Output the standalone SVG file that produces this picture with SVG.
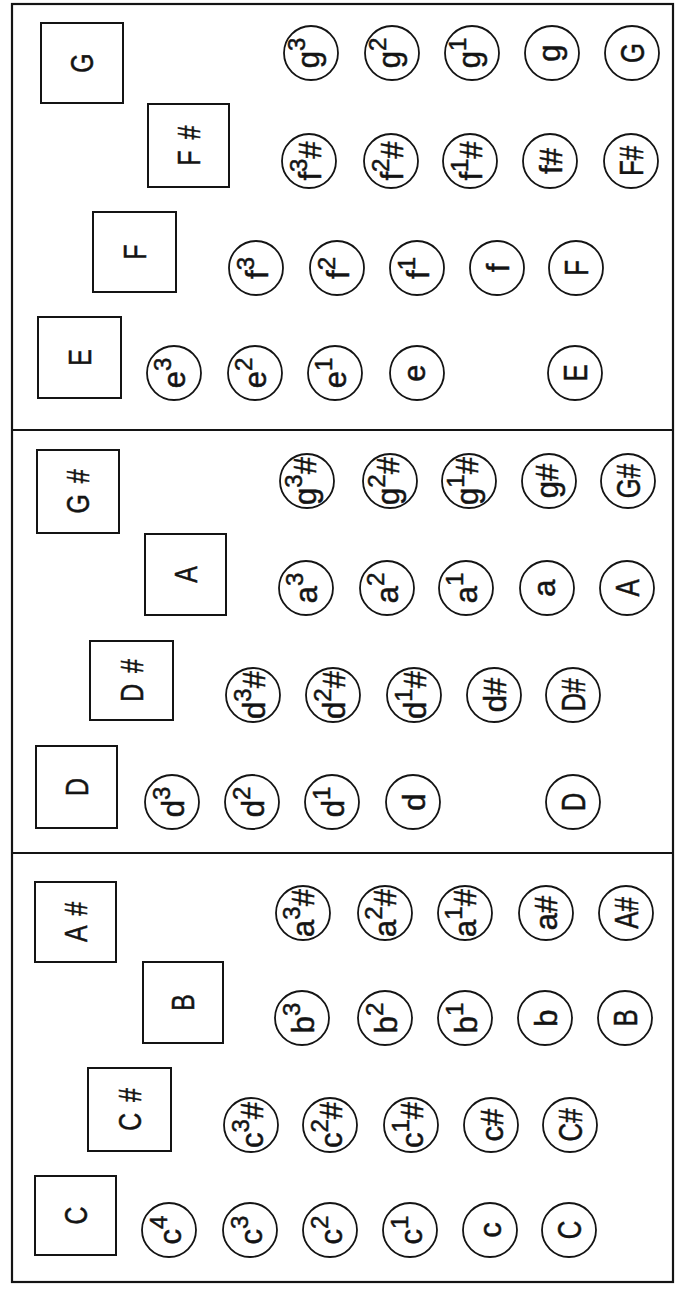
<svg xmlns="http://www.w3.org/2000/svg" width="677" height="1292" viewBox="0 0 677 1292">
<style>
.frame{fill:none;stroke:#141414;stroke-width:2.2}
.key rect{fill:none;stroke:#141414;stroke-width:2}
.note circle{fill:none;stroke:#141414;stroke-width:1.8}
text{font-family:"Liberation Sans",Arial,sans-serif;fill:#141414;stroke:#141414;stroke-width:0.5;text-anchor:middle}
.kl{font-size:31px}
.lc{font-size:31px}
.uc{font-size:33px}
.sup{font-size:24px}
</style>
<rect width="677" height="1292" fill="#ffffff"/>
<g id="frame">
<rect class="frame" x="12" y="4" width="661" height="1278"/>
<line class="frame" x1="12" y1="430" x2="673" y2="430"/>
<line class="frame" x1="12" y1="853" x2="673" y2="853"/>
</g>
<g id="connectors"></g>

<!-- Panel 1 keys -->
<g id="key-G" class="key"><rect x="41" y="23" width="82" height="80"/><text class="kl" transform="translate(82 63) rotate(-90) scale(0.8 1)" y="11">G</text></g>
<g id="key-Fsharp" class="key"><rect x="148" y="104" width="81" height="83"/><text class="kl" transform="translate(188.5 145.5) rotate(-90) scale(0.8 1)" y="11">F <tspan dx="5">#</tspan></text></g>
<g id="key-F" class="key"><rect x="93" y="212" width="83" height="80"/><text class="kl" transform="translate(134.5 252) rotate(-90) scale(0.8 1)" y="11">F</text></g>
<g id="key-E" class="key"><rect x="38" y="317" width="83" height="81"/><text class="kl" transform="translate(79.5 357.5) rotate(-90) scale(0.8 1)" y="11">E</text></g>

<!-- Panel 1 notes -->
<g id="n-g3" class="note"><circle cx="311" cy="53" r="27"/><text class="lc" transform="translate(311 53) rotate(-90)" y="8">g<tspan class="sup" dy="-14">3</tspan></text></g>
<g id="n-g2" class="note"><circle cx="392" cy="53" r="27"/><text class="lc" transform="translate(392 53) rotate(-90)" y="8">g<tspan class="sup" dy="-14">2</tspan></text></g>
<g id="n-g1" class="note"><circle cx="472" cy="53" r="27"/><text class="lc" transform="translate(472 53) rotate(-90)" y="8">g<tspan class="sup" dy="-14">1</tspan></text></g>
<g id="n-g" class="note"><circle cx="552" cy="53" r="27"/><text class="lc" transform="translate(552 53) rotate(-90)" y="8">g</text></g>
<g id="n-G" class="note"><circle cx="632" cy="53" r="27"/><text class="uc" transform="translate(632 53) rotate(-90) scale(0.78 1)" y="12">G</text></g>

<g id="n-f3sharp" class="note"><circle cx="309" cy="161" r="27"/><text class="lc" transform="translate(309 161) rotate(-90)" y="12">f<tspan class="sup" dy="-14">3</tspan><tspan dy="14">#</tspan></text></g>
<g id="n-f2sharp" class="note"><circle cx="391" cy="161" r="27"/><text class="lc" transform="translate(391 161) rotate(-90)" y="12">f<tspan class="sup" dy="-14">2</tspan><tspan dy="14">#</tspan></text></g>
<g id="n-f1sharp" class="note"><circle cx="470" cy="161" r="27"/><text class="lc" transform="translate(470 161) rotate(-90)" y="12">f<tspan class="sup" dy="-14">1</tspan><tspan dy="14">#</tspan></text></g>
<g id="n-fsharp" class="note"><circle cx="550" cy="161" r="27"/><text class="lc" transform="translate(550 161) rotate(-90)" y="12">f#</text></g>
<g id="n-Fsharp" class="note"><circle cx="631" cy="161" r="27"/><text class="uc" transform="translate(631 161) rotate(-90) scale(0.78 1)" y="12">F#</text></g>

<g id="n-f3" class="note"><circle cx="256" cy="268" r="27"/><text class="lc" transform="translate(256 268) rotate(-90)" y="12">f<tspan class="sup" dy="-14">3</tspan></text></g>
<g id="n-f2" class="note"><circle cx="337" cy="268" r="27"/><text class="lc" transform="translate(337 268) rotate(-90)" y="12">f<tspan class="sup" dy="-14">2</tspan></text></g>
<g id="n-f1" class="note"><circle cx="417" cy="268" r="27"/><text class="lc" transform="translate(417 268) rotate(-90)" y="12">f<tspan class="sup" dy="-14">1</tspan></text></g>
<g id="n-f" class="note"><circle cx="497" cy="268" r="27"/><text class="lc" transform="translate(497 268) rotate(-90)" y="12">f</text></g>
<g id="n-F" class="note"><circle cx="576" cy="268" r="27"/><text class="uc" transform="translate(576 268) rotate(-90) scale(0.78 1)" y="12">F</text></g>

<g id="n-e3" class="note"><circle cx="174" cy="373" r="27"/><text class="lc" transform="translate(174 373) rotate(-90)" y="11">e<tspan class="sup" dy="-14">3</tspan></text></g>
<g id="n-e2" class="note"><circle cx="255" cy="373" r="27"/><text class="lc" transform="translate(255 373) rotate(-90)" y="11">e<tspan class="sup" dy="-14">2</tspan></text></g>
<g id="n-e1" class="note"><circle cx="335" cy="373" r="27"/><text class="lc" transform="translate(335 373) rotate(-90)" y="11">e<tspan class="sup" dy="-14">1</tspan></text></g>
<g id="n-e" class="note"><circle cx="417" cy="373" r="27"/><text class="lc" transform="translate(417 373) rotate(-90)" y="8">e</text></g>
<g id="n-E" class="note"><circle cx="575" cy="373" r="27"/><text class="uc" transform="translate(575 373) rotate(-90) scale(0.78 1)" y="12">E</text></g>

<!-- Panel 2 keys -->
<g id="key-Gsharp" class="key"><rect x="37" y="450" width="82" height="83"/><text class="kl" transform="translate(78 491.5) rotate(-90) scale(0.8 1)" y="11">G <tspan dx="5">#</tspan></text></g>
<g id="key-A" class="key"><rect x="145" y="534" width="81" height="81"/><text class="kl" transform="translate(185.5 574.5) rotate(-90) scale(0.8 1)" y="11">A</text></g>
<g id="key-Dsharp" class="key"><rect x="90" y="641" width="83" height="79"/><text class="kl" transform="translate(131.5 680.5) rotate(-90) scale(0.8 1)" y="11">D <tspan dx="5">#</tspan></text></g>
<g id="key-D" class="key"><rect x="36" y="746" width="81" height="82"/><text class="kl" transform="translate(76.5 787) rotate(-90) scale(0.8 1)" y="11">D</text></g>

<!-- Panel 2 notes -->
<g id="n-g3sharp" class="note"><circle cx="307" cy="481" r="27"/><text class="lc" transform="translate(307 481) rotate(-90)" y="9">g<tspan class="sup" dy="-14">3</tspan><tspan dy="14">#</tspan></text></g>
<g id="n-g2sharp" class="note"><circle cx="390" cy="481" r="27"/><text class="lc" transform="translate(390 481) rotate(-90)" y="9">g<tspan class="sup" dy="-14">2</tspan><tspan dy="14">#</tspan></text></g>
<g id="n-g1sharp" class="note"><circle cx="469" cy="481" r="27"/><text class="lc" transform="translate(469 481) rotate(-90)" y="9">g<tspan class="sup" dy="-14">1</tspan><tspan dy="14">#</tspan></text></g>
<g id="n-gsharp" class="note"><circle cx="549" cy="481" r="27"/><text class="lc" transform="translate(549 481) rotate(-90)" y="9">g#</text></g>
<g id="n-Gsharp" class="note"><circle cx="628" cy="481" r="27"/><text class="uc" transform="translate(628 481) rotate(-90) scale(0.78 1)" y="12">G#</text></g>

<g id="n-a3" class="note"><circle cx="306" cy="588" r="27"/><text class="lc" transform="translate(306 588) rotate(-90)" y="11">a<tspan class="sup" dy="-14">3</tspan></text></g>
<g id="n-a2" class="note"><circle cx="387" cy="588" r="27"/><text class="lc" transform="translate(387 588) rotate(-90)" y="11">a<tspan class="sup" dy="-14">2</tspan></text></g>
<g id="n-a1" class="note"><circle cx="466" cy="588" r="27"/><text class="lc" transform="translate(466 588) rotate(-90)" y="11">a<tspan class="sup" dy="-14">1</tspan></text></g>
<g id="n-a" class="note"><circle cx="547" cy="588" r="27"/><text class="lc" transform="translate(547 588) rotate(-90)" y="8">a</text></g>
<g id="n-A" class="note"><circle cx="627" cy="588" r="27"/><text class="uc" transform="translate(627 588) rotate(-90) scale(0.78 1)" y="12">A</text></g>

<g id="n-d3sharp" class="note"><circle cx="253" cy="695" r="27"/><text class="lc" transform="translate(253 695) rotate(-90)" y="12">d<tspan class="sup" dy="-14">3</tspan><tspan dy="14">#</tspan></text></g>
<g id="n-d2sharp" class="note"><circle cx="333" cy="695" r="27"/><text class="lc" transform="translate(333 695) rotate(-90)" y="12">d<tspan class="sup" dy="-14">2</tspan><tspan dy="14">#</tspan></text></g>
<g id="n-d1sharp" class="note"><circle cx="414" cy="695" r="27"/><text class="lc" transform="translate(414 695) rotate(-90)" y="12">d<tspan class="sup" dy="-14">1</tspan><tspan dy="14">#</tspan></text></g>
<g id="n-dsharp" class="note"><circle cx="494" cy="695" r="27"/><text class="lc" transform="translate(494 695) rotate(-90)" y="12">d#</text></g>
<g id="n-Dsharp" class="note"><circle cx="573" cy="695" r="27"/><text class="uc" transform="translate(573 695) rotate(-90) scale(0.78 1)" y="12">D#</text></g>

<g id="n-d3" class="note"><circle cx="172" cy="802" r="27"/><text class="lc" transform="translate(172 802) rotate(-90)" y="12">d<tspan class="sup" dy="-14">3</tspan></text></g>
<g id="n-d2" class="note"><circle cx="252" cy="802" r="27"/><text class="lc" transform="translate(252 802) rotate(-90)" y="12">d<tspan class="sup" dy="-14">2</tspan></text></g>
<g id="n-d1" class="note"><circle cx="332" cy="802" r="27"/><text class="lc" transform="translate(332 802) rotate(-90)" y="12">d<tspan class="sup" dy="-14">1</tspan></text></g>
<g id="n-d" class="note"><circle cx="413" cy="802" r="27"/><text class="lc" transform="translate(413 802) rotate(-90)" y="12">d</text></g>
<g id="n-D" class="note"><circle cx="573" cy="802" r="27"/><text class="uc" transform="translate(573 802) rotate(-90) scale(0.78 1)" y="12">D</text></g>

<!-- Panel 3 keys -->
<g id="key-Asharp" class="key"><rect x="35" y="882" width="81" height="80"/><text class="kl" transform="translate(75.5 922) rotate(-90) scale(0.8 1)" y="11">A <tspan dx="5">#</tspan></text></g>
<g id="key-B" class="key"><rect x="143" y="962" width="80" height="81"/><text class="kl" transform="translate(183 1002.5) rotate(-90) scale(0.8 1)" y="11">B</text></g>
<g id="key-Csharp" class="key"><rect x="88" y="1068" width="83" height="83"/><text class="kl" transform="translate(129.5 1109.5) rotate(-90) scale(0.8 1)" y="11">C <tspan dx="5">#</tspan></text></g>
<g id="key-C" class="key"><rect x="35" y="1176" width="81" height="79"/><text class="kl" transform="translate(75.5 1215.5) rotate(-90) scale(0.8 1)" y="11">C</text></g>

<!-- Panel 3 notes -->
<g id="n-a3sharp" class="note"><circle cx="303" cy="913" r="27"/><text class="lc" transform="translate(303 913) rotate(-90)" y="11">a<tspan class="sup" dy="-14">3</tspan><tspan dy="14">#</tspan></text></g>
<g id="n-a2sharp" class="note"><circle cx="385" cy="913" r="27"/><text class="lc" transform="translate(385 913) rotate(-90)" y="11">a<tspan class="sup" dy="-14">2</tspan><tspan dy="14">#</tspan></text></g>
<g id="n-a1sharp" class="note"><circle cx="465" cy="913" r="27"/><text class="lc" transform="translate(465 913) rotate(-90)" y="11">a<tspan class="sup" dy="-14">1</tspan><tspan dy="14">#</tspan></text></g>
<g id="n-asharp" class="note"><circle cx="546" cy="913" r="27"/><text class="lc" transform="translate(546 913) rotate(-90)" y="11">a#</text></g>
<g id="n-Asharp" class="note"><circle cx="626" cy="913" r="27"/><text class="uc" transform="translate(626 913) rotate(-90) scale(0.78 1)" y="12">A#</text></g>

<g id="n-b3" class="note"><circle cx="302" cy="1018" r="27"/><text class="lc" transform="translate(302 1018) rotate(-90)" y="12">b<tspan class="sup" dy="-14">3</tspan></text></g>
<g id="n-b2" class="note"><circle cx="385" cy="1018" r="27"/><text class="lc" transform="translate(385 1018) rotate(-90)" y="12">b<tspan class="sup" dy="-14">2</tspan></text></g>
<g id="n-b1" class="note"><circle cx="465" cy="1018" r="27"/><text class="lc" transform="translate(465 1018) rotate(-90)" y="12">b<tspan class="sup" dy="-14">1</tspan></text></g>
<g id="n-b" class="note"><circle cx="545" cy="1018" r="27"/><text class="lc" transform="translate(545 1018) rotate(-90)" y="12">b</text></g>
<g id="n-B" class="note"><circle cx="625" cy="1018" r="27"/><text class="uc" transform="translate(625 1018) rotate(-90) scale(0.78 1)" y="12">B</text></g>

<g id="n-c3sharp" class="note"><circle cx="251" cy="1125" r="27"/><text class="lc" transform="translate(251 1125) rotate(-90)" y="12">c<tspan class="sup" dy="-14">3</tspan><tspan dy="14">#</tspan></text></g>
<g id="n-c2sharp" class="note"><circle cx="330" cy="1125" r="27"/><text class="lc" transform="translate(330 1125) rotate(-90)" y="12">c<tspan class="sup" dy="-14">2</tspan><tspan dy="14">#</tspan></text></g>
<g id="n-c1sharp" class="note"><circle cx="411" cy="1125" r="27"/><text class="lc" transform="translate(411 1125) rotate(-90)" y="12">c<tspan class="sup" dy="-14">1</tspan><tspan dy="14">#</tspan></text></g>
<g id="n-csharp" class="note"><circle cx="491" cy="1125" r="27"/><text class="lc" transform="translate(491 1125) rotate(-90)" y="12">c#</text></g>
<g id="n-Csharp" class="note"><circle cx="570" cy="1125" r="27"/><text class="uc" transform="translate(570 1125) rotate(-90) scale(0.78 1)" y="12">C#</text></g>

<g id="n-c4" class="note"><circle cx="169" cy="1230" r="27"/><text class="lc" transform="translate(169 1230) rotate(-90)" y="12">c<tspan class="sup" dy="-14">4</tspan></text></g>
<g id="n-c3" class="note"><circle cx="250" cy="1230" r="27"/><text class="lc" transform="translate(250 1230) rotate(-90)" y="12">c<tspan class="sup" dy="-14">3</tspan></text></g>
<g id="n-c2" class="note"><circle cx="330" cy="1230" r="27"/><text class="lc" transform="translate(330 1230) rotate(-90)" y="12">c<tspan class="sup" dy="-14">2</tspan></text></g>
<g id="n-c1" class="note"><circle cx="410" cy="1230" r="27"/><text class="lc" transform="translate(410 1230) rotate(-90)" y="12">c<tspan class="sup" dy="-14">1</tspan></text></g>
<g id="n-c" class="note"><circle cx="490" cy="1230" r="27"/><text class="lc" transform="translate(490 1230) rotate(-90)" y="11">c</text></g>
<g id="n-C" class="note"><circle cx="569" cy="1230" r="27"/><text class="uc" transform="translate(569 1230) rotate(-90) scale(0.78 1)" y="12">C</text></g>
</svg>
